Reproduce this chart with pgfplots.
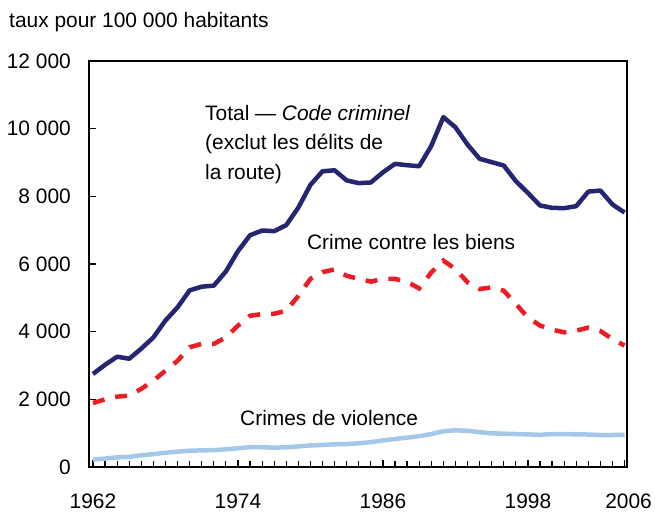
\documentclass[border=0pt]{standalone}
\usepackage{pgfplots}
\pgfplotsset{compat=1.18}
\usepackage{fontspec}
\setmainfont{Liberation Sans}
\definecolor{totalc}{RGB}{38,38,112}
\definecolor{propc}{RGB}{237,28,36}
\definecolor{violc}{RGB}{163,200,234}

\begin{document}
\fontsize{21}{25}\selectfont
\begin{tikzpicture}
\begin{axis}[
  scale only axis, width=538bp, height=406bp,
  at={(0,0)}, anchor=south west,
  xmin=1961.67, xmax=2006.2, ymin=0, ymax=12000,
  axis line style={line width=2.5bp},
  tick style={black, line width=1.2bp},
  tick pos=left, tick align=inside,
  xtick={1962,1974,1986,1998,2006},
  xticklabels={1962,1974,1986,1998,\raisebox{-2bp}{\hspace*{8bp}2006}},
  minor xtick={1962,...,2006},
  major tick length=7bp, minor tick length=6bp,
  ytick={0,2000,...,12000},
  yticklabels={0,2~000,4~000,6~000,8~000,10~000,12~000},
  scaled y ticks=false,
  xticklabel style={inner sep=0pt, yshift=-27bp},
  yticklabel style={inner sep=0pt, xshift=-18bp},
  clip=false,
]
% Crimes de violence
\addplot[violc, line width=4.5bp, line join=round] coordinates {
(1962,221) (1963,249) (1964,284) (1965,299) (1966,347) (1967,381)
(1968,423) (1969,453) (1970,481) (1971,492) (1972,497) (1973,523)
(1974,553) (1975,585) (1976,584) (1977,572) (1978,580) (1979,610)
(1980,636) (1981,654) (1982,671) (1983,679) (1984,701) (1985,735)
(1986,785) (1987,829) (1988,868) (1989,911) (1990,973) (1991,1059)
(1992,1084) (1993,1070) (1994,1030) (1995,995) (1996,985) (1997,975)
(1998,965) (1999,950) (2000,975) (2001,975) (2002,965) (2003,960)
(2004,945) (2005,945) (2006,951)
};
% Crime contre les biens
\addplot[propc, line width=4.5bp, dash pattern=on 12bp off 11bp] coordinates {
(1962,1890) (1963,2000) (1964,2080) (1965,2110) (1966,2310) (1967,2550)
(1968,2850) (1969,3140) (1970,3540) (1971,3640) (1972,3640) (1973,3830)
(1974,4180) (1975,4470) (1976,4520) (1977,4530) (1978,4620) (1979,5060)
(1980,5560) (1981,5760) (1982,5840) (1983,5650) (1984,5560) (1985,5480)
(1986,5560) (1987,5560) (1988,5470) (1989,5280) (1990,5750) (1991,6100)
(1992,5850) (1993,5460) (1994,5260) (1995,5310) (1996,5210) (1997,4820)
(1998,4420) (1999,4180) (2000,4060) (2001,3980) (2002,4030) (2003,4120)
(2004,4020) (2005,3780) (2006,3590)
};
% Total
\addplot[totalc, line width=4.5bp, line join=round] coordinates {
(1962,2750) (1963,3020) (1964,3260) (1965,3200) (1966,3500) (1967,3830)
(1968,4330) (1969,4720) (1970,5220) (1971,5330) (1972,5360) (1973,5780)
(1974,6380) (1975,6850) (1976,6990) (1977,6970) (1978,7150) (1979,7670)
(1980,8340) (1981,8740) (1982,8770) (1983,8470) (1984,8390) (1985,8410)
(1986,8710) (1987,8960) (1988,8920) (1989,8890) (1990,9490) (1991,10340)
(1992,10040) (1993,9530) (1994,9110) (1995,9010) (1996,8910) (1997,8450)
(1998,8100) (1999,7730) (2000,7660) (2001,7650) (2002,7710) (2003,8140)
(2004,8170) (2005,7760) (2006,7520)
};
\node[anchor=base west, inner sep=0] at (rel axis cs:-0.1487,1.0837) {taux pour 100 000 habitants};
\node[anchor=north west, inner sep=0, align=left, font=\fontsize{21}{29.5}\selectfont]
  at (rel axis cs:0.2156,0.8916) {Total — \textit{Code criminel}\\(exclut les délits de\\la route)};
\node[anchor=base west, inner sep=0] at (rel axis cs:0.405,0.5345) {Crime contre les biens};
\node[anchor=base west, inner sep=0] at (rel axis cs:0.2807,0.1017) {Crimes de violence};
\end{axis}
\path (-89bp,-45bp) rectangle (566bp,467bp);
\end{tikzpicture}
\end{document}
